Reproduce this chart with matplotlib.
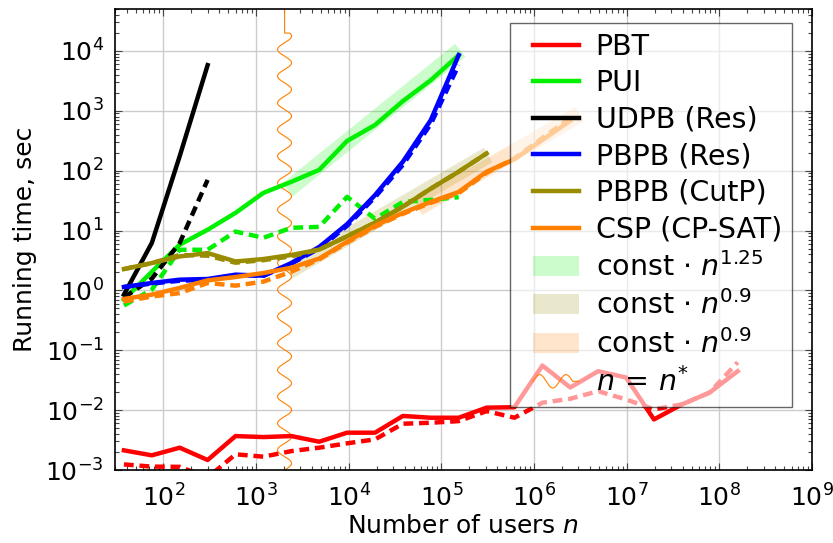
import numpy as np
import matplotlib
matplotlib.use('Agg')
import matplotlib.pyplot as plt
from matplotlib.lines import Line2D
from matplotlib.patches import Patch
from matplotlib.legend_handler import HandlerBase, HandlerLine2D, HandlerPatch
from matplotlib import transforms
from matplotlib.ticker import FixedLocator, NullFormatter, LogFormatterSciNotation

# number of users (x), every series starts at the first value
n_users = [37.5, 75, 150, 300, 600, 1200, 2400, 4800, 9600, 19200, 38400,
           76800, 153600, 307200, 614400, 1228800, 2457600, 4915200, 9830400,
           19660800, 39321600, 78643200, 157286400]

# running times in seconds (solid / dashed)
pbt = [0.00213, 0.00176, 0.00236, 0.00147, 0.00369, 0.00355, 0.00369, 0.00297,
       0.0042, 0.0042, 0.0080, 0.00747, 0.00747, 0.011, 0.0112, 0.0556, 0.0239,
       0.0447, 0.0351, 0.0070, 0.01245, 0.0197, 0.0447]
pbt_d = [0.00124, 0.00114, 0.00113, 0.00075, 0.00183, 0.00167, 0.00207, 0.00236,
         0.00279, 0.00325, 0.00593, 0.00616, 0.00656, 0.00962, 0.00747, 0.0133,
         0.0155, 0.0207, 0.0151, 0.0103, 0.01245, 0.0197, 0.063]
pui = [0.70, 2.05, 5.8, 10.3, 19.7, 42.5, 65, 103, 313, 578, 1450, 3240, 8470]
pui_d = [0.56, 1.03, 4.77, 4.77, 9.6, 7.55, 11.1, 11.5, 36.5, 15.7, 30, 32.5, 36]
udpb = [0.85, 6.2, 175, 5770]
udpb_d = [0.76, 1.57, 6.2, 70]
pbpb_res = [1.14, 1.33, 1.51, 1.55, 1.83, 1.76, 2.86, 5.3, 12.8, 39, 141, 700, 8500]
pbpb_res_d = [1.14, 1.30, 1.45, 1.50, 1.80, 1.75, 2.80, 5.0, 12.0, 36, 125, 600, 5800]
pbpb_cut = [2.27, 2.86, 3.69, 4.2, 3.04, 3.34, 3.9, 4.8, 8.0, 13.5, 25, 50, 96, 194]
pbpb_cut_d = [2.27, 2.86, 3.9, 3.8, 2.9, 3.2, 3.7, 4.8, 8.0, 13.5, 25, 50, 96, 194]
csp = [0.72, 0.85, 1.1, 1.47, 1.67, 1.95, 2.39, 3.4, 6.5, 12.0, 19.7, 30, 44,
       96, 155, 325, 680]
csp_d = [0.65, 0.79, 0.9, 1.33, 1.2, 1.4, 2.05, 3.3, 6.3, 11.5, 19, 29, 42,
         92, 160, 350, 760]

# fitted growth bands: (n range, time range)
fit_green_n = [2200, 160000]
fit_green_t = [48, 10200]
fit_olive_n = [2200, 320000]
fit_olive_t = [2.06, 182]
fit_orange_n = [56000, 3100000]
fit_orange_t = [24, 870]

n_star = 2030

x_ticks = [1e2, 1e3, 1e4, 1e5, 1e6, 1e7, 1e8, 1e9]
y_ticks = [1e-3, 1e-2, 1e-1, 1e0, 1e1, 1e2, 1e3, 1e4]

RED = '#ff0000'
GREEN = '#00f000'
BLACK = '#000000'
BLUE = '#0000ff'
OLIVE = '#9a8c00'
ORANGE = '#ff8000'

plt.rcParams['font.family'] = 'DejaVu Sans'
plt.rcParams['mathtext.fontset'] = 'dejavusans'
plt.rcParams['font.size'] = 18


class WaveHandler(HandlerBase):
    "Draws a short snake line as legend handle."
    def create_artists(self, legend, orig_handle, xdescent, ydescent,
                       width, height, fontsize, trans):
        t = np.linspace(0, width, 300)
        period = 19.0
        amp = 4.8
        wave_len = 1.5 * period
        y = np.where(t < wave_len, amp * np.sin(2 * np.pi * t / period), 0.0)
        line = Line2D(t - xdescent, y + height / 2 - ydescent,
                      color=orig_handle.get_color(), lw=orig_handle.get_linewidth())
        line.set_transform(trans)
        return [line]


def minor_positions(lo_exp, hi_exp, lo, hi):
    "2..9 times every decade, kept inside the view."
    out = []
    for e in range(lo_exp, hi_exp + 1):
        for m in range(2, 10):
            v = m * 10.0 ** e
            if lo <= v <= hi:
                out.append(v)
    return out


fig = plt.figure(figsize=(8.33, 5.43), dpi=100)
ax_rect = [0.138, 0.1344, 0.8369, 0.849]
ax = fig.add_axes(ax_rect)
ax.set_xscale('log')
ax.set_yscale('log')
xlim = (30, 1e9)
ylim = (1e-3, 5e4)
ax.set_xlim(*xlim)
ax.set_ylim(*ylim)

lw = 3.2
dash = (0, (2.2, 1.3))
band_lw = 12

# bands first
ax.plot(fit_green_n, fit_green_t, color=GREEN, alpha=0.2, lw=band_lw,
        solid_capstyle='butt', zorder=1.5)
ax.plot(fit_olive_n, fit_olive_t, color=OLIVE, alpha=0.2, lw=band_lw,
        solid_capstyle='butt', zorder=1.5)
ax.plot(fit_orange_n, fit_orange_t, color=ORANGE, alpha=0.2, lw=band_lw,
        solid_capstyle='butt', zorder=1.5)

# wavy n = n* marker, built in pixel units then mapped to data / axes coords
ax_w_px = ax_rect[2] * 833
ax_h_px = ax_rect[3] * 543
decade_px = ax_w_px / (np.log10(xlim[1]) - np.log10(xlim[0]))
t_px = np.linspace(0, ax_h_px, 2000)
wave_end = ax_h_px - 24
off_px = np.where(t_px < wave_end, 7.0 * np.sin(2 * np.pi * t_px / 26.7), 0.0)
wave_x = n_star * 10 ** (off_px / decade_px)
blend = transforms.blended_transform_factory(ax.transData, ax.transAxes)
ax.plot(wave_x, t_px / ax_h_px, color=ORANGE, lw=0.8, transform=blend,
        zorder=1.8)

series = [
    (pbt, pbt_d, RED),
    (pui, pui_d, GREEN),
    (udpb, udpb_d, BLACK),
    (pbpb_res, pbpb_res_d, BLUE),
    (pbpb_cut, pbpb_cut_d, OLIVE),
    (csp, csp_d, ORANGE),
]
for solid, dashed, col in series:
    ax.plot(n_users[:len(solid)], solid, color=col, lw=lw, zorder=2)
    ax.plot(n_users[:len(dashed)], dashed, color=col, lw=lw, ls=dash, zorder=2)

# axes styling
ax.grid(True, which='major', color='#cccccc', lw=1.0)
ax.set_axisbelow(True)
for s in ax.spines.values():
    s.set_linewidth(1.2)
ax.xaxis.set_major_locator(FixedLocator(x_ticks))
ax.yaxis.set_major_locator(FixedLocator(y_ticks))
ax.xaxis.set_major_formatter(LogFormatterSciNotation())
ax.yaxis.set_major_formatter(LogFormatterSciNotation())
ax.xaxis.set_minor_locator(FixedLocator(minor_positions(1, 8, *xlim)))
ax.yaxis.set_minor_locator(FixedLocator(minor_positions(-3, 4, *ylim)))
ax.xaxis.set_minor_formatter(NullFormatter())
ax.yaxis.set_minor_formatter(NullFormatter())
ax.tick_params(which='both', direction='in', top=True, right=True,
               color='#444444', width=0.8)
ax.tick_params(which='major', length=5, labelsize=18)
ax.tick_params(which='minor', length=3)
ax.tick_params(axis='y', which='major', pad=8)
ax.tick_params(axis='x', which='major', pad=10)

ax.set_xlabel('Number of users $n$', fontsize=18, labelpad=2)
ax.set_ylabel('Running time, sec', fontsize=18, labelpad=6)

# legend
handles = [
    Line2D([], [], color=RED, lw=lw),
    Line2D([], [], color=GREEN, lw=lw),
    Line2D([], [], color=BLACK, lw=lw),
    Line2D([], [], color=BLUE, lw=lw),
    Line2D([], [], color=OLIVE, lw=lw),
    Line2D([], [], color=ORANGE, lw=lw),
    Patch(facecolor=GREEN, alpha=0.2, edgecolor='none'),
    Patch(facecolor=OLIVE, alpha=0.2, edgecolor='none'),
    Patch(facecolor=ORANGE, alpha=0.2, edgecolor='none'),
]
wave_proxy = Line2D([], [], color=ORANGE, lw=0.8)
handles.append(wave_proxy)
labels = ['PBT', 'PUI', 'UDPB (Res)', 'PBPB (Res)', 'PBPB (CutP)', 'CSP (CP-SAT)',
          r'const $\cdot$ $n^{1.25}$', r'const $\cdot$ $n^{0.9}$',
          r'const $\cdot$ $n^{0.9}$', r'$n\,=\,n^{*}$']
# extra left room inside the frame: a wider handle slot, drawn only on its right part
xpad = 0.45
hmap = {Line2D: HandlerLine2D(xpad=xpad), Patch: HandlerPatch(xpad=xpad),
        wave_proxy: WaveHandler(xpad=xpad)}
leg = ax.legend(handles, labels, loc='upper right', bbox_to_anchor=(0.971, 0.97),
                borderaxespad=0, fontsize=20.5, frameon=True, fancybox=False,
                framealpha=0.6, edgecolor='black', handlelength=1.6 + xpad,
                handletextpad=0.6, labelspacing=0.3, borderpad=0.35,
                handler_map=hmap)
leg.get_frame().set_linewidth(1.0)
leg.set_zorder(5)

fig.savefig('out.png', dpi=100)
